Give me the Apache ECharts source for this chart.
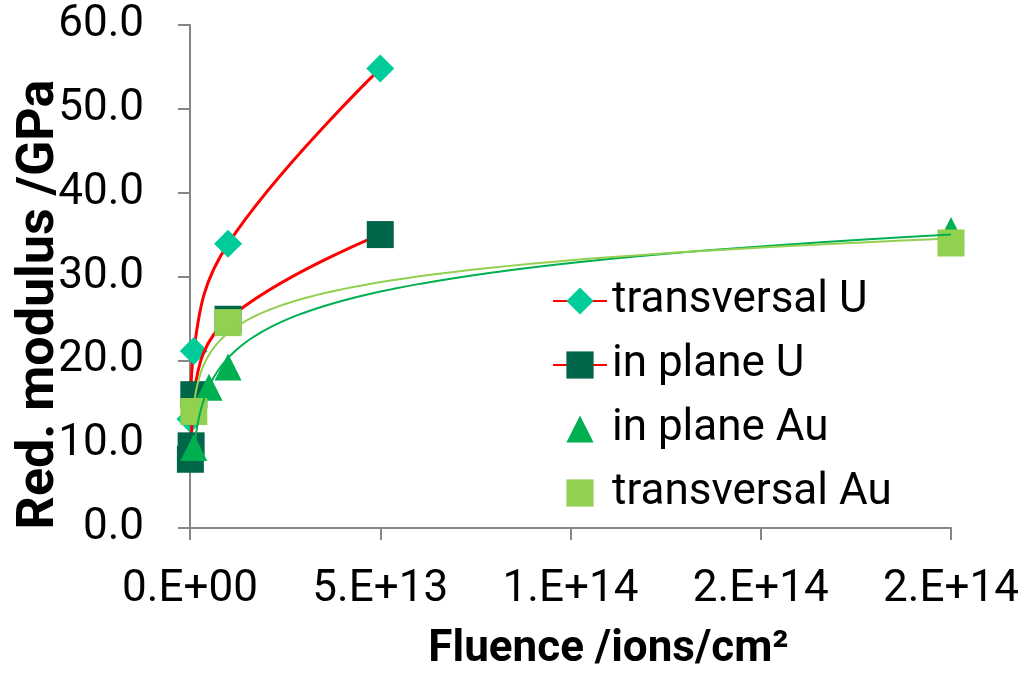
<!DOCTYPE html>
<html>
<head>
<meta charset="UTF-8">
<title>Red. modulus vs fluence</title>
<script src="https://cdn.jsdelivr.net/npm/echarts@6/dist/echarts.min.js"></script>
<style>
  html, body { margin: 0; padding: 0; background: #fff; }
  #chart { width: 1029px; height: 677px; }
</style>
</head>
<body>
<div id="chart"></div>
<script>
// fluence (ions/cm2) and reduced modulus (GPa)
var transUX = [1e11, 1e12, 1e13, 5e13];
var transUY = [13.0, 21.1, 33.9, 54.8];
var planeUX = [1e11, 3e11, 1e12, 1e13, 5e13];
var planeUY = [8.2, 9.8, 15.9, 24.9, 35.0];
var planeAuX = [1e12, 5e12, 1e13, 2e14];
var planeAuY = [9.6, 16.8, 19.2, 35.5];
var transAuX = [1e12, 1e13, 2e14];
var transAuY = [13.9, 24.5, 34.0];
var xTickLabels = ['0.E+00', '5.E+13', '1.E+14', '2.E+14', '2.E+14'];

var FONT = 'Roboto';

function pairs(xs, ys) {
    return xs.map(function (x, i) { return [x, ys[i]]; });
}

// logarithmic trendline y = a*ln(x) + b (least squares, like the spreadsheet one)
function logTrend(xs, ys) {
    var n = xs.length, mx = 0, my = 0;
    for (var i = 0; i < n; i++) { mx += Math.log(xs[i]); my += ys[i]; }
    mx /= n; my /= n;
    var sxy = 0, sxx = 0;
    for (var j = 0; j < n; j++) {
        var d = Math.log(xs[j]) - mx;
        sxy += d * (ys[j] - my);
        sxx += d * d;
    }
    var a = sxy / sxx, b = my - a * mx;
    var lo = Math.log(Math.min.apply(null, xs)), hi = Math.log(Math.max.apply(null, xs));
    var out = [];
    for (var k = 0; k <= 80; k++) {
        var x = Math.exp(lo + (hi - lo) * k / 80);
        out.push([x, a * Math.log(x) + b]);
    }
    return out;
}

var chart = echarts.init(document.getElementById('chart'));
chart.setOption({
    animation: false,
    backgroundColor: '#fff',
    grid: {
        left: 190, right: 78, top: 25, bottom: 149,
        containLabel: false,
        outerBoundsMode: 'none'
    },
    legend: {
        data: ['transversal U', 'in plane U', 'in plane Au', 'transversal Au'],
        orient: 'vertical',
        left: 547, top: 274,
        itemWidth: 54, itemHeight: 34, itemGap: 20,
        textStyle: { fontFamily: FONT, fontSize: 44, color: '#000', lineHeight: 44 }
    },
    xAxis: {
        type: 'value',
        min: 0, max: 2e14, interval: 5e13,
        name: 'Fluence /ions/cm²',
        nameLocation: 'middle',
        nameGap: 100,
        nameMoveOverlap: false,
        nameTextStyle: {
            fontFamily: FONT, fontSize: 44, fontWeight: 'bold', color: '#000',
            padding: [0, 0, 0, 76]
        },
        axisLine: { lineStyle: { color: '#868686', width: 2 } },
        axisTick: { length: 12, lineStyle: { color: '#868686', width: 2 } },
        splitLine: { show: false },
        axisLabel: {
            margin: 40, fontFamily: FONT, fontSize: 44, color: '#000',
            formatter: function (v) { return xTickLabels[Math.round(v / 5e13)]; }
        }
    },
    yAxis: {
        type: 'value',
        min: 0, max: 60, interval: 10,
        name: 'Red. modulus /GPa',
        nameLocation: 'middle',
        nameGap: 124,
        nameMoveOverlap: false,
        nameTextStyle: {
            fontFamily: FONT, fontSize: 52, fontWeight: 'bold', color: '#000',
            padding: [0, 56, 0, 0]
        },
        axisLine: { show: true, lineStyle: { color: '#868686', width: 2 } },
        axisTick: { show: true, length: 12, lineStyle: { color: '#868686', width: 2 } },
        splitLine: { show: false },
        axisLabel: {
            margin: 46, fontFamily: FONT, fontSize: 44, color: '#000',
            formatter: function (v) { return v.toFixed(1); }
        }
    },
    series: [
        {
            name: 'transversal U',
            type: 'line',
            data: pairs(transUX, transUY),
            smooth: 0.4,
            symbol: 'diamond', symbolSize: 28,
            lineStyle: { color: '#ff0000', width: 3 },
            itemStyle: { color: '#00cc99' },
            z: 2
        },
        {
            name: 'in plane U',
            type: 'line',
            data: pairs(planeUX, planeUY),
            smooth: 0.4,
            symbol: 'rect', symbolSize: 27,
            lineStyle: { color: '#ff0000', width: 3 },
            itemStyle: { color: '#00664a' },
            z: 3
        },
        {
            name: 'in plane Au',
            type: 'line',
            data: pairs(planeAuX, planeAuY),
            symbol: 'triangle', symbolSize: 27,
            lineStyle: { width: 0, opacity: 0 },
            itemStyle: { color: '#00b050', opacity: 1 },
            z: 4
        },
        {
            name: 'transversal Au',
            type: 'line',
            data: pairs(transAuX, transAuY),
            symbol: 'rect', symbolSize: 27,
            lineStyle: { width: 0, opacity: 0 },
            itemStyle: { color: '#92d050', opacity: 1 },
            z: 5
        },
        {
            name: 'trend in plane Au',
            type: 'line',
            data: logTrend(planeAuX, planeAuY),
            showSymbol: false, silent: true,
            lineStyle: { color: '#00b050', width: 2 },
            z: 6
        },
        {
            name: 'trend transversal Au',
            type: 'line',
            data: logTrend(transAuX, transAuY),
            showSymbol: false, silent: true,
            lineStyle: { color: '#92d050', width: 2 },
            z: 6
        }
    ]
});
</script>
</body>
</html>
